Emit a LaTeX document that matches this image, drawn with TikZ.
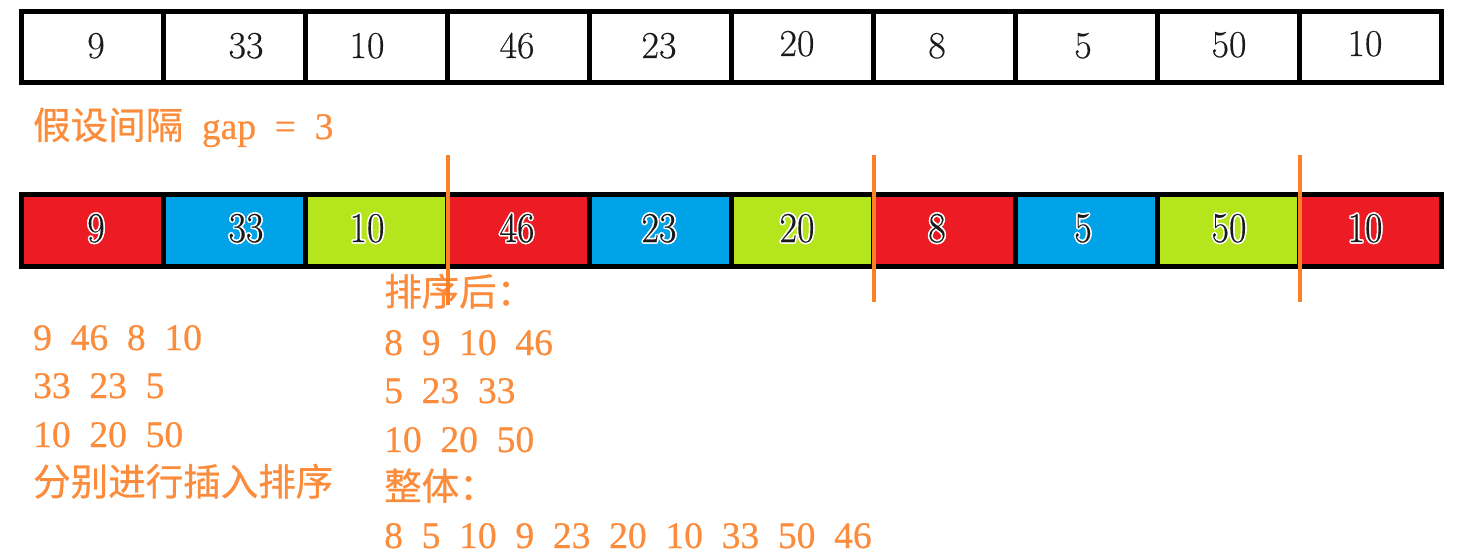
\documentclass[tikz,border=0pt]{standalone}
\usepackage{fontspec}
\usepackage{graphicx}
\newfontfamily\cjk{Noto Sans CJK SC}[FakeBold=0.6]
\newfontfamily\dig{Liberation Serif}[WordSpace=2,FakeBold=0.6]
\newfontfamily\cmnum{Latin Modern Roman}[FakeBold=0.4]
\definecolor{org}{RGB}{250,140,60}
\definecolor{orgline}{RGB}{255,127,39}
\definecolor{cred}{RGB}{237,28,36}
\definecolor{cblue}{RGB}{0,162,232}
\definecolor{clime}{RGB}{181,230,29}
\definecolor{ink}{RGB}{26,26,26}
\newcommand\haloed[1]{%
  \rlap{\kern-1.6pt\textcolor{white}{#1}}%
  \rlap{\kern1.6pt\textcolor{white}{#1}}%
  \rlap{\raisebox{1.6pt}{\textcolor{white}{#1}}}%
  \rlap{\raisebox{-1.6pt}{\textcolor{white}{#1}}}%
  \rlap{\kern-1.2pt\raisebox{1.2pt}{\textcolor{white}{#1}}}%
  \rlap{\kern1.2pt\raisebox{1.2pt}{\textcolor{white}{#1}}}%
  \rlap{\kern-1.2pt\raisebox{-1.2pt}{\textcolor{white}{#1}}}%
  \rlap{\kern1.2pt\raisebox{-1.2pt}{\textcolor{white}{#1}}}%
  \textcolor{ink}{#1}}
\begin{document}
\begin{tikzpicture}[x=1pt,y=-1pt,
  cellbox/.style={draw=black,line width=5pt,minimum width=142pt,minimum height=71.5pt,inner sep=0pt,outer sep=0pt},
  numtop/.style={font=\cmnum\fontsize{38}{40}\selectfont,text=ink,inner sep=0pt,anchor=base},
  numbot/.style={font=\cmnum\fontsize{38}{40}\selectfont,inner sep=0pt,anchor=base},
  otext/.style={font=\fontsize{37.5}{40}\selectfont,text=org,inner sep=0pt,anchor=base west},
  sepline/.style={draw=orgline,line width=4pt}]
\useasboundingbox (0,0) rectangle (1463,556);
% top row
\foreach \i in {0,...,9}
  \node[cellbox] (t\i) at ({92.5+142*\i},47.25) {};
\foreach \v/\x/\y [count=\k] in {9/96/58,33/246/58,10/367/58,46/517/58,23/659/58,20/797/56,8/937/58,5/1083/58,50/1229/57,10/1365/56}
  \node[numtop] (n\k) at (\x,\y) {\v};
% bottom row
\foreach \c [count=\k from 0] in {cred,cblue,clime,cred,cblue,clime,cred,cblue,clime,cred}
  \node[cellbox,fill=\c] (b\k) at ({92.5+142*\k},230.25) {};
\foreach \v/\x [count=\k] in {9/96,33/246,10/367,46/517,23/659,20/797,8/937,5/1083,50/1229,10/1365}
  \node[numbot] (m\k) at (\x,242) {\haloed{\scalebox{1}[1.12]{\v}}};
% texts
\node[otext] (gap) at (33,139) {\cjk 假设间隔\dig{} gap = 3};
\node[otext] (l1) at (33,350) {\dig 9 46 8 10};
\node[otext] (l2) at (33,398) {\dig 33 23 5};
\node[otext] (l3) at (33,447) {\dig 10 20 50};
\node[otext] (l4) at (33,495.5) {\cjk 分别进行插入排序};
\node[otext] (r0) at (384,305.5) {\cjk 排序后：};
\node[otext] (r1) at (384,355) {\dig 8 9 10 46};
\node[otext] (r2) at (384,403) {\dig 5 23 33};
\node[otext] (r3) at (384,452) {\dig 10 20 50};
\node[otext] (r4) at (384,500) {\cjk 整体：};
\node[otext] (r5) at (384,548) {\dig 8 5 10 9 23 20 10 33 50 46};
% orange separators
\coordinate (s1a) at (447.5,155); \coordinate (s1b) at (447.5,305);
\coordinate (s2a) at (874,155);   \coordinate (s2b) at (874,302);
\coordinate (s3a) at (1299.5,155); \coordinate (s3b) at (1299.5,302);
\draw[sepline] (s1a) -- (s1b);
\draw[sepline] (s2a) -- (s2b);
\draw[sepline] (s3a) -- (s3b);
\end{tikzpicture}
\end{document}
